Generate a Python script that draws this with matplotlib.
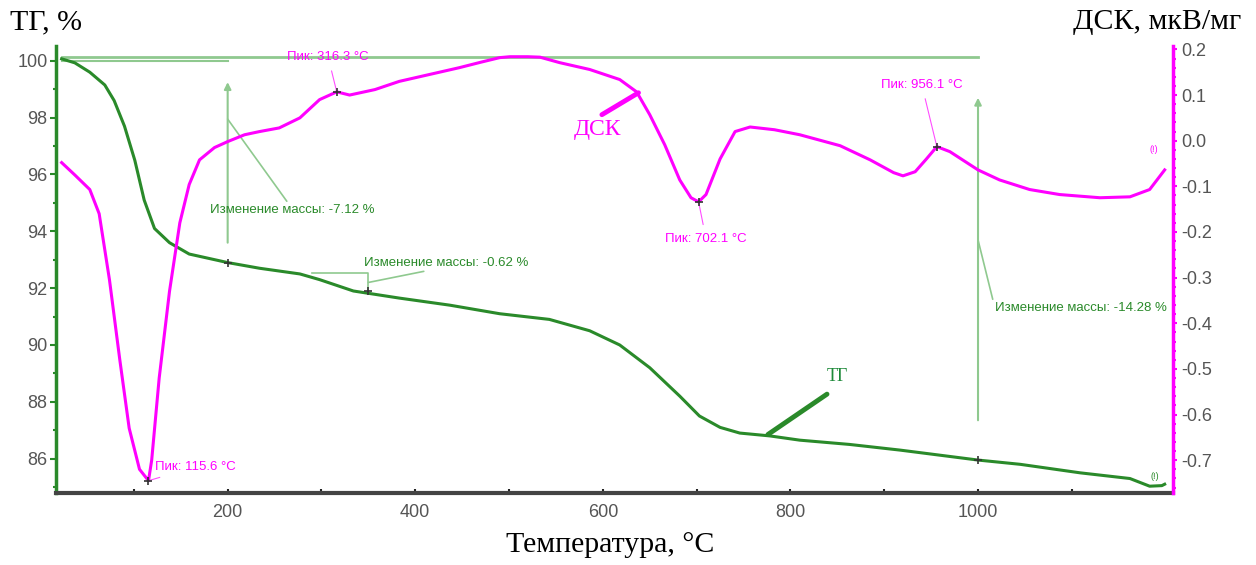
import numpy as np
import matplotlib
matplotlib.use("Agg")
import matplotlib.pyplot as plt
from matplotlib.ticker import MultipleLocator, FormatStrFormatter

# TG curve, %
tg_temp = [23, 37, 53, 69, 79, 90, 101, 111, 122, 138, 159, 200, 234, 277, 298,
           334, 383, 437, 490, 543, 586, 618, 650, 682, 703, 725, 746, 778, 810,
           863, 917, 1000, 1045, 1109, 1162, 1183, 1196, 1199]
tg_val = [100.07, 99.93, 99.6, 99.15, 98.6, 97.7, 96.5, 95.1, 94.1, 93.6, 93.2,
          92.9, 92.7, 92.5, 92.3, 91.9, 91.65, 91.4, 91.1, 90.9, 90.5, 90.0, 89.2,
          88.2, 87.5, 87.1, 86.9, 86.8, 86.65, 86.5, 86.3, 85.95, 85.8, 85.5, 85.3,
          85.03, 85.05, 85.1]

# DSC curve, мкВ/мг
dsc_temp = [23, 37, 53, 63, 74, 85, 95, 106, 115.6, 119, 127, 138, 149, 159, 170,
            186, 200, 218, 234, 255, 277, 298, 316.3, 330, 357, 383, 415, 447, 470,
            490, 501, 520, 533, 554, 586, 618, 636, 650, 666, 682, 694, 702.1, 710,
            725, 741, 757, 783, 810, 853, 885, 910, 920, 933, 945, 956.1, 970, 1000,
            1023, 1055, 1087, 1130, 1162, 1183, 1199]
dsc_val = [-0.048, -0.075, -0.107, -0.16, -0.305, -0.48, -0.63, -0.72, -0.745,
           -0.70, -0.52, -0.33, -0.18, -0.096, -0.042, -0.015, -0.002, 0.013, 0.02,
           0.028, 0.05, 0.09, 0.107, 0.10, 0.112, 0.13, 0.145, 0.16, 0.172, 0.182,
           0.184, 0.184, 0.183, 0.171, 0.156, 0.134, 0.107, 0.057, -0.009, -0.086,
           -0.125, -0.134, -0.118, -0.04, 0.02, 0.03, 0.024, 0.013, -0.011, -0.042,
           -0.07, -0.077, -0.068, -0.04, -0.013, -0.024, -0.064, -0.086, -0.107,
           -0.118, -0.125, -0.123, -0.107, -0.064]

peak_temp = [115.6, 316.3, 702.1, 956.1]
peak_val = [-0.745, 0.107, -0.134, -0.013]
peak_text_pos = [(122, -0.715), (307, 0.184), (710, -0.215), (940, 0.123)]

step_temp = [200, 350, 1000]
step_tg = [92.9, 91.9, 85.95]
mass_change = [-7.12, -0.62, -14.28]

GREEN = '#2a8a2a'
LGREEN = '#8fc98f'
MAG = '#ff00ff'
TICK = '#555555'

plt.rcParams['font.family'] = ['Liberation Sans', 'DejaVu Sans']

fig = plt.figure(figsize=(12.56, 5.65), dpi=100)
ax = fig.add_axes([0.0446, 0.1274, 0.934 - 0.0446, 0.919 - 0.1274])
ax2 = ax.twinx()

ax.set_xlim(17, 1208)
ax.set_ylim(84.79, 100.53)
ax2.set_ylim(-0.772, 0.208)

ax2.plot(dsc_temp, dsc_val, color=MAG, lw=2.2, zorder=3)
ax.plot(tg_temp, tg_val, color=GREEN, lw=2.2, zorder=3)

# peak markers and labels
ax2.plot(peak_temp, peak_val, '+', color='#333333', ms=6, mew=1.2, zorder=4)
for t, v, (tx, ty) in zip(peak_temp, peak_val, peak_text_pos):
    ha = 'left' if t < 200 else 'center'
    ax2.annotate(f'Пик: {t:.1f} °C', xy=(t, v), xytext=(tx, ty),
                 color=MAG, fontsize=9.5, ha=ha, va='center',
                 arrowprops=dict(arrowstyle='-', color=MAG, lw=0.8, alpha=0.7,
                                 shrinkA=4, shrinkB=0))

# mass change markers and annotations
ax.plot(step_temp, step_tg, '+', color='#333333', ms=6, mew=1.2, zorder=4)
ax.plot([23, 1000], [100.14, 100.14], color=LGREEN, lw=2, zorder=2)
ax.plot([23, 200], [100.0, 100.0], color=LGREEN, lw=1.5, zorder=2)
ax.annotate('', xy=(200, 99.25), xytext=(200, 93.6),
            arrowprops=dict(arrowstyle='-|>', color=LGREEN, lw=1.5,
                            mutation_scale=10, shrinkA=0, shrinkB=0))
ax.annotate('', xy=(1000, 98.7), xytext=(1000, 87.35),
            arrowprops=dict(arrowstyle='-|>', color=LGREEN, lw=1.5,
                            mutation_scale=10, shrinkA=0, shrinkB=0))
ax.plot([290, 350, 350], [92.54, 92.54, 91.9], color=LGREEN, lw=1.2, zorder=2)

ax.annotate(f'Изменение массы: {mass_change[0]:.2f} %', xy=(200, 97.95),
            xytext=(181, 94.75), color=GREEN, fontsize=9.5, ha='left', va='center',
            arrowprops=dict(arrowstyle='-', color=LGREEN, lw=1.2,
                            shrinkA=0, shrinkB=0, relpos=(0.48, 1)))
ax.annotate(f'Изменение массы: {mass_change[1]:.2f} %', xy=(350, 92.2),
            xytext=(345, 92.9), color=GREEN, fontsize=9.5, ha='left', va='center',
            arrowprops=dict(arrowstyle='-', color=LGREEN, lw=1.2,
                            shrinkA=0, shrinkB=0, relpos=(0.45, 0)))
ax.annotate(f'Изменение массы: {mass_change[2]:.2f} %', xy=(1000, 93.7),
            xytext=(1018, 91.3), color=GREEN, fontsize=9.5, ha='left', va='center',
            arrowprops=dict(arrowstyle='-', color=LGREEN, lw=1.2,
                            shrinkA=0, shrinkB=0, relpos=(0, 0.5)))

# end markers
ax2.text(1187, -0.025, '(!)', color=MAG, fontsize=6.5, ha='center')
ax.text(1188, 85.3, '(!)', color=GREEN, fontsize=6.5, ha='center')

# curve labels with pointers
ax2.annotate('', xy=(638, 0.105), xytext=(599, 0.057),
             arrowprops=dict(arrowstyle='-', color=MAG, lw=3.5,
                             shrinkA=0, shrinkB=0))
ax2.text(594, 0.024, 'ДСК', color=MAG, fontsize=17,
         family=['Liberation Serif'], ha='center', va='center')
ax.annotate('', xy=(776, 86.85), xytext=(839, 88.27),
            arrowprops=dict(arrowstyle='-', color=GREEN, lw=3.5,
                            shrinkA=0, shrinkB=0))
ax.text(850, 88.9, 'ТГ', color='#1e8a3a', fontsize=13,
        family=['Liberation Serif'], ha='center', va='center')

# axes styling
for a in (ax, ax2):
    a.spines['top'].set_visible(False)
ax.spines['left'].set_color(GREEN)
ax.spines['left'].set_linewidth(2.5)
ax.spines['right'].set_visible(False)
ax2.spines['left'].set_visible(False)
ax2.spines['bottom'].set_visible(False)
ax2.spines['right'].set_color(MAG)
ax2.spines['right'].set_linewidth(2.5)
ax.spines['bottom'].set_color('#444444')
ax.spines['bottom'].set_linewidth(3)

ax.set_xticks([200, 400, 600, 800, 1000])
ax.set_xticks([100, 300, 500, 700, 900, 1100], minor=True)
ax.yaxis.set_major_locator(MultipleLocator(2))
ax.yaxis.set_minor_locator(MultipleLocator(1))
ax2.yaxis.set_major_locator(MultipleLocator(0.1))
ax2.yaxis.set_minor_locator(MultipleLocator(0.02))
ax2.yaxis.set_major_formatter(FormatStrFormatter('%.1f'))

ax.tick_params(axis='x', which='both', direction='in', color='#222222',
               labelsize=13, labelcolor=TICK, length=3, width=1.5, pad=8)
ax.tick_params(axis='y', which='both', colors=GREEN, labelcolor=TICK,
               labelsize=13, length=4, width=1.5, pad=2)
ax.tick_params(axis='y', which='minor', length=2.5)
ax2.tick_params(axis='y', which='both', colors=MAG, labelcolor=TICK,
                labelsize=13, length=3, width=1.5, pad=3)
ax2.tick_params(axis='y', which='minor', length=2)

fig.text(0.008, 0.961, 'ТГ, %', fontsize=21.5, family=['Liberation Serif'],
         ha='left', va='center')
fig.text(0.988, 0.961, 'ДСК, мкВ/мг', fontsize=21.5, family=['Liberation Serif'],
         ha='right', va='center')
fig.text(0.486, 0.035, 'Температура, °C', fontsize=21.5,
         family=['Liberation Serif'], ha='center', va='center')

fig.savefig('out.png', dpi=100)
